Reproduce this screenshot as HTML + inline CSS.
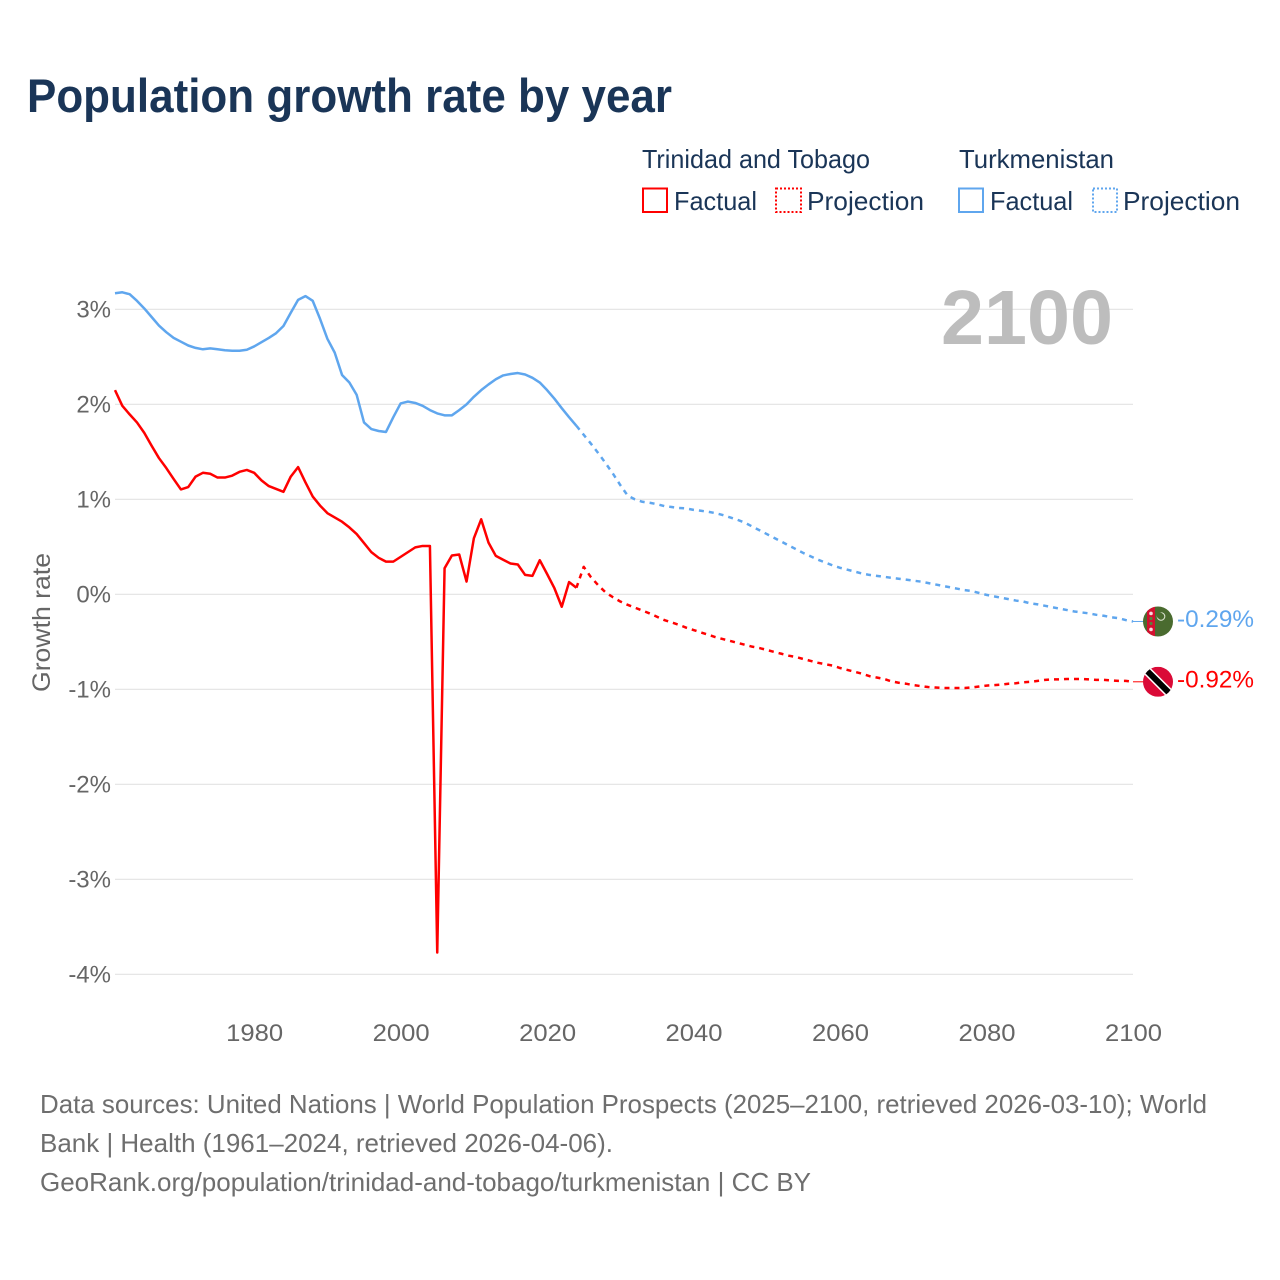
<!DOCTYPE html>
<html lang="en">
<head>
<meta charset="utf-8">
<title>Population growth rate by year</title>
<style>
html,body{margin:0;padding:0;background:#fff;}
svg{display:block;}
text{font-family:"Liberation Sans",sans-serif;}
</style>
</head>
<body>
<svg id="chart" xmlns="http://www.w3.org/2000/svg" width="1280" height="1280" viewBox="0 0 1280 1280">
  <rect width="1280" height="1280" fill="#ffffff"/>
  <text x="27" y="112" font-size="47" font-weight="700" fill="#1a3557" textLength="645" lengthAdjust="spacingAndGlyphs">Population growth rate by year</text>

  <g font-size="26" fill="#1a3557">
    <text x="642" y="168" textLength="228" lengthAdjust="spacingAndGlyphs">Trinidad and Tobago</text>
    <text x="959" y="168" textLength="155" lengthAdjust="spacingAndGlyphs">Turkmenistan</text>
    <rect x="643" y="188.5" width="24" height="23.5" fill="none" stroke="#ff0000" stroke-width="2"/>
    <text x="674" y="210" textLength="83" lengthAdjust="spacingAndGlyphs">Factual</text>
    <rect x="776" y="188.5" width="25" height="23.5" fill="none" stroke="#ff0000" stroke-width="2" stroke-dasharray="2 2"/>
    <text x="807" y="210" textLength="117" lengthAdjust="spacingAndGlyphs">Projection</text>
    <rect x="959" y="188.5" width="24" height="23.5" fill="none" stroke="#5fa6ee" stroke-width="2"/>
    <text x="990" y="210" textLength="83" lengthAdjust="spacingAndGlyphs">Factual</text>
    <rect x="1093" y="188.5" width="24" height="23.5" fill="none" stroke="#5fa6ee" stroke-width="2" stroke-dasharray="2 2"/>
    <text x="1123" y="210" textLength="117" lengthAdjust="spacingAndGlyphs">Projection</text>
  </g>

  <g id="grid"></g>
  <g id="yticks"></g>
  <g id="xticks"></g>

  <text x="1113" y="344" font-size="77" font-weight="700" fill="#bdbdbd" text-anchor="end" textLength="172" lengthAdjust="spacingAndGlyphs">2100</text>
  <text transform="translate(50,692) rotate(-90)" font-size="25" fill="#666666" textLength="139" lengthAdjust="spacingAndGlyphs">Growth rate</text>

  <g id="series"></g>

  <defs>
    <clipPath id="flag-clip"><circle cx="0" cy="0" r="15"/></clipPath>
  </defs>

  <g id="flag-tm">
    <g clip-path="url(#flag-clip)">
      <rect x="-15" y="-15" width="30" height="30" fill="#4a6b2f"/>
      <rect x="-11" y="-15" width="8" height="30" fill="#d3102f"/>
      <circle cx="-7" cy="-8" r="1.8" fill="#f4dcdc"/>
      <circle cx="-7" cy="-3" r="1.6" fill="#5c7f3c"/>
      <circle cx="-7" cy="2" r="1.6" fill="#5c7f3c"/>
      <circle cx="-7" cy="8" r="1.8" fill="#f4dcdc"/>
      <circle cx="3" cy="-5" r="3.8" fill="none" stroke="#d8e0cc" stroke-width="1.1"/>
      <circle cx="1.8" cy="-6" r="3.2" fill="#4a6b2f"/>
    </g>
  </g>
  <g id="flag-tt">
    <g clip-path="url(#flag-clip)">
      <rect x="-15" y="-15" width="30" height="30" fill="#da0a37"/>
      <line x1="-16" y1="-16" x2="16" y2="16" stroke="#ffffff" stroke-width="9"/>
      <line x1="-16" y1="-16" x2="16" y2="16" stroke="#000000" stroke-width="6"/>
    </g>
  </g>
  <text id="label-tm" x="1177" font-size="24" fill="#5fa6ee" textLength="77" lengthAdjust="spacingAndGlyphs"></text>
  <text id="label-tt" x="1177" font-size="24" fill="#ff0000" textLength="77" lengthAdjust="spacingAndGlyphs"></text>

  <g font-size="26" fill="#6e6e6e">
    <text x="40" y="1113" textLength="1167" lengthAdjust="spacingAndGlyphs">Data sources: United Nations | World Population Prospects (2025–2100, retrieved 2026-03-10); World</text>
    <text x="40" y="1152" textLength="573" lengthAdjust="spacingAndGlyphs">Bank | Health (1961–2024, retrieved 2026-04-06).</text>
    <text x="40" y="1191" textLength="771" lengthAdjust="spacingAndGlyphs">GeoRank.org/population/trinidad-and-tobago/turkmenistan | CC BY</text>
  </g>
</svg>

<script>
const xTickLabels = [1980, 2000, 2020, 2040, 2060, 2080, 2100];
const yTickValues = [3, 2, 1, 0, -1, -2, -3, -4];
const firstFactualYear = 1961;
const firstProjectionYear = 2024;
const lastYear = 2100;

const trinidadFactual = [
  2.15,1.985,1.895,1.81,1.70,1.565,1.435,1.33,1.215,1.105,
  1.13,1.24,1.28,1.27,1.23,1.23,1.25,1.29,1.31,1.28,
  1.20,1.14,1.11,1.08,1.24,1.34,1.18,1.03,0.935,0.855,
  0.81,0.765,0.705,0.635,0.54,0.445,0.385,0.345,0.345,0.395,
  0.445,0.495,0.51,0.51,-3.77,0.275,0.41,0.42,0.135,0.59,
  0.79,0.545,0.405,0.365,0.325,0.315,0.205,0.195,0.36,0.215,
  0.065,-0.13,0.13,0.07
];
const trinidadProjection = [
  0.07,0.29,0.18,0.095,0.02,-0.03,-0.075,-0.11,-0.14,-0.17,-0.2,-0.235,
  -0.27,-0.295,-0.32,-0.35,-0.375,-0.40,-0.425,-0.45,-0.47,-0.49,
  -0.51,-0.53,-0.55,-0.565,-0.585,-0.605,-0.625,-0.645,-0.66,-0.68,
  -0.70,-0.72,-0.735,-0.75,-0.775,-0.795,-0.815,-0.835,-0.86,-0.875,
  -0.89,-0.915,-0.93,-0.94,-0.955,-0.965,-0.975,-0.98,-0.985,-0.985,
  -0.985,-0.985,-0.98,-0.97,-0.96,-0.955,-0.95,-0.94,-0.935,-0.925,
  -0.92,-0.91,-0.90,-0.895,-0.895,-0.89,-0.89,-0.89,-0.895,-0.90,
  -0.90,-0.905,-0.91,-0.91,-0.92
];
const turkmenistanFactual = [
  3.17,3.18,3.16,3.09,3.01,2.92,2.83,2.76,2.70,2.66,
  2.62,2.595,2.58,2.59,2.58,2.57,2.565,2.565,2.575,2.61,
  2.655,2.70,2.75,2.825,2.965,3.10,3.14,3.09,2.90,2.69,
  2.545,2.31,2.23,2.10,1.81,1.74,1.72,1.71,1.865,2.01,
  2.03,2.015,1.985,1.94,1.905,1.885,1.885,1.94,2.0,2.08,
  2.15,2.21,2.265,2.305,2.32,2.33,2.315,2.28,2.23,2.15,
  2.06,1.96,1.865,1.775
];
const turkmenistanProjection = [
  1.775,1.68,1.585,1.485,1.38,1.27,1.15,1.04,1.0,0.975,0.965,0.95,
  0.93,0.92,0.91,0.905,0.89,0.88,0.87,0.855,0.835,0.81,
  0.785,0.755,0.715,0.675,0.635,0.595,0.555,0.515,0.475,0.435,
  0.40,0.365,0.335,0.305,0.28,0.26,0.24,0.22,0.205,0.195,
  0.185,0.175,0.165,0.155,0.145,0.135,0.12,0.105,0.09,0.075,
  0.06,0.045,0.035,0.015,-0.005,-0.02,-0.035,-0.05,-0.065,-0.075,
  -0.095,-0.105,-0.12,-0.135,-0.15,-0.165,-0.18,-0.19,-0.20,-0.215,
  -0.225,-0.24,-0.25,-0.27,-0.285
];
const endLabelTrinidad = "-0.92%";
const endLabelTurkmenistan = "-0.29%";

const NS = "http://www.w3.org/2000/svg";
function xScale(year) { return 115 + (year - 1961) * (1133 - 115) / (2100 - 1961); }
function yScale(v) { return 594.4 - v * 95; }

const grid = document.getElementById("grid");
const yticks = document.getElementById("yticks");
const xticks = document.getElementById("xticks");
const series = document.getElementById("series");

yTickValues.forEach(function (v) {
  const line = document.createElementNS(NS, "line");
  
  
  line.setAttribute("x1", 115);
  line.setAttribute("x2", 1133);
  line.setAttribute("y1", yScale(v));
  line.setAttribute("y2", yScale(v));
  line.setAttribute("stroke", "#e6e6e6");
  line.setAttribute("stroke-width", "1.3");
  grid.appendChild(line);

  const t = document.createElementNS(NS, "text");
  
  
  t.setAttribute("x", 111);
  t.setAttribute("y", yScale(v) + 8);
  t.setAttribute("text-anchor", "end");
  t.setAttribute("font-size", "24");
  t.setAttribute("fill", "#666666");
  t.textContent = v + "%";
  yticks.appendChild(t);
});

xTickLabels.forEach(function (yr) {
  const t = document.createElementNS(NS, "text");
  
  
  t.setAttribute("x", xScale(yr) + 0.5);
  t.setAttribute("y", 1041);
  t.setAttribute("text-anchor", "middle");
  t.setAttribute("font-size", "24.5");
  t.setAttribute("fill", "#666666");
  t.setAttribute("textLength", "57");
  t.setAttribute("lengthAdjust", "spacingAndGlyphs");
  t.textContent = String(yr);
  xticks.appendChild(t);
});

function pathFor(values, startYear) {
  return values.map(function (v, i) {
    return (i ? "L" : "M") + xScale(startYear + i).toFixed(2) + " " + yScale(v).toFixed(2);
  }).join(" ");
}

function addSeries(name, values, startYear, color, dashed) {
  const p = document.createElementNS(NS, "path");
  
  
  p.setAttribute("d", pathFor(values, startYear));
  p.setAttribute("fill", "none");
  p.setAttribute("stroke", color);
  p.setAttribute("stroke-width", "2.5");
  p.setAttribute("stroke-linejoin", "round");
  if (dashed) { p.setAttribute("stroke-dasharray", "5 5"); }
  series.appendChild(p);
}

const blue = "#5fa6ee";
const red = "#ff0000";
addSeries("turkmenistan-factual-line", turkmenistanFactual, firstFactualYear, blue, false);
addSeries("turkmenistan-projection-line", turkmenistanProjection, firstProjectionYear, blue, true);
addSeries("trinidad-factual-line", trinidadFactual, firstFactualYear, red, false);
addSeries("trinidad-projection-line", trinidadProjection, firstProjectionYear, red, true);

function addEnd(name, values, color, flagId, labelId, labelText) {
  const endY = yScale(values[values.length - 1]);
  const l = document.createElementNS(NS, "line");
  
  
  l.setAttribute("x1", xScale(lastYear));
  l.setAttribute("x2", 1144);
  l.setAttribute("y1", endY);
  l.setAttribute("y2", endY);
  l.setAttribute("stroke", color);
  l.setAttribute("stroke-width", "1");
  series.appendChild(l);
  document.getElementById(flagId).setAttribute("transform", "translate(1158," + endY + ")");
  const label = document.getElementById(labelId);
  label.setAttribute("y", endY + 5.7);
  label.textContent = labelText;
}
addEnd("turkmenistan-end-connector", turkmenistanProjection, blue, "flag-tm", "label-tm", endLabelTurkmenistan);
addEnd("trinidad-end-connector", trinidadProjection, red, "flag-tt", "label-tt", endLabelTrinidad);
</script>
</body>
</html>
